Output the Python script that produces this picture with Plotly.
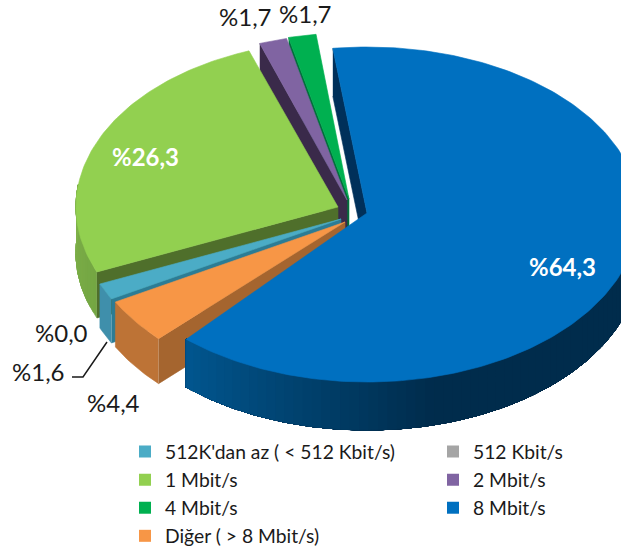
import numpy as np
import plotly.graph_objects as go

# ---- data ----
categories = ["512K'dan az ( < 512 Kbit/s)", "512 Kbit/s", "1 Mbit/s", "2 Mbit/s",
              "4 Mbit/s", "8 Mbit/s", "Diğer ( > 8 Mbit/s)"]
values = [1.6, 0.0, 26.3, 1.7, 1.7, 64.3, 4.4]
value_labels = ["%1,6", "%0,0", "%26,3", "%1,7", "%1,7", "%64,3", "%4,4"]

# ---- style ----
top_colors = ["#4bacc6", "#a5a5a5", "#92d050", "#8064a2", "#00b050", "#0070c0", "#f79646"]
cut_colors = ["#2c7c95", "#777777", "#4f6f2b", "#3a2a4a", "#00703a", "#00305a", "#a5652f"]
side_from = ["#3f8fab", "#777777", "#74a643", "#5a4678", "#008a40", "#002c4c", "#bd7336"]
side_to = ["#3f8fab", "#777777", "#7fb24a", "#5a4678", "#008a40", "#01568f", "#bd7336"]
side_hold = [0, 0, 0, 0, 0, 0.6, 0]
apex_x = [341, 341, 338, 347, 349, 367, 345]
apex_y = [219, 219, 207, 200, 199, 213, 222]
radius_x = [262, 262, 262, 262, 262, 272, 262]
radius_y = [166] * 7
radius_y_front = [166, 166, 166, 166, 166, 169, 166]
depth_px = [44, 44, 46, 48, 48, 48, 45]
# small corrections of the drawn edges for the source's perspective
start_shift = [0, 0, 0, -1.1, -1.1, -1.1, 0]
end_shift = [0, 0, -1.5, -1.1, -1.1, -3.7, 0]
first_start_deg = 241.2
draw_order = [4, 3, 2, 0, 1, 6, 5]
label_x = [38, 61, 145, 245, 305, 562, 113]
label_y = [371, 332, 156, 16, 13, 266, 402]
label_color = ["#1a1a1a", "#1a1a1a", "white", "#1a1a1a", "#1a1a1a", "white", "#1a1a1a"]
FONT = "Lato"


def hex_mix(a, b, f):
    ca = [int(a[i:i + 2], 16) for i in (1, 3, 5)]
    cb = [int(b[i:i + 2], 16) for i in (1, 3, 5)]
    return "rgb(%d,%d,%d)" % tuple(round(x + (y - x) * f) for x, y in zip(ca, cb))


def rim(i, deg):
    t = np.radians(deg)
    c = np.cos(t)
    ry = np.where(c < 0, radius_y_front[i], radius_y[i])
    return apex_x[i] + radius_x[i] * np.sin(t), apex_y[i] - ry * c


fig = go.Figure()


def poly(xs, ys, color):
    fig.add_trace(go.Scatter(x=list(xs), y=list(ys), mode="lines", fill="toself",
                             fillcolor=color, line=dict(color=color, width=0.6),
                             hoverinfo="skip", showlegend=False))


cum = np.concatenate([[0], np.cumsum(values)])
starts = first_start_deg + 3.6 * cum[:-1]
ends = first_start_deg + 3.6 * cum[1:]

for i in draw_order:
    if values[i] <= 0:
        continue
    a0, a1 = starts[i] + start_shift[i], ends[i] + end_shift[i]
    d = depth_px[i]
    # outer wall: nested bands, each later one painted over the rest of the arc
    arc_all = np.linspace(a0, a1, max(6, int(a1 - a0) + 2))
    arc_all = arc_all[np.cos(np.radians(arc_all)) <= 0.15]
    if len(arc_all) > 1:
        steps = len(arc_all) - 1 if side_from[i] != side_to[i] else 1
        for j in range(0, steps, 2 if steps > 1 else 1):
            arc = arc_all[j:]
            xs, ys = rim(i, arc)
            f = j / max(1, steps - 1)
            f = max(0.0, (f - side_hold[i]) / (1 - side_hold[i]))
            poly(np.r_[xs, xs[::-1]], np.r_[ys, (ys + d)[::-1]],
                 hex_mix(side_from[i], side_to[i], f))
    # cut face on the leading edge
    ox, oy = rim(i, a0)
    poly([ox, apex_x[i], apex_x[i], ox],
         [oy, apex_y[i], apex_y[i] + d, oy + d], cut_colors[i])
    # top face
    arc = np.linspace(a0, a1, max(4, int(a1 - a0) + 2))
    xs, ys = rim(i, arc)
    poly(np.r_[apex_x[i], xs, apex_x[i]], np.r_[apex_y[i], ys, apex_y[i]], top_colors[i])

# legend entries
for name, color in zip(categories, top_colors):
    fig.add_trace(go.Scatter(x=[None], y=[None], mode="markers", name=name,
                             marker=dict(symbol="square", size=12, color=color)))

# leader line of the %1,6 label
fig.add_trace(go.Scatter(x=[107, 83, 72], y=[342, 377, 377], mode="lines",
                         line=dict(color="#1a1a1a", width=1.5),
                         hoverinfo="skip", showlegend=False))

for txt, x, y, c in zip(value_labels, label_x, label_y, label_color):
    fig.add_annotation(x=x, y=y, xref="x", yref="y", text=("<b>%s</b>" % txt) if c == "white" else txt,
                       showarrow=False, font=dict(family=FONT, size=24, color=c))

fig.update_layout(
    width=621, height=553, margin=dict(l=0, r=0, t=0, b=0, autoexpand=False),
    paper_bgcolor="white", plot_bgcolor="white", hovermode=False,
    xaxis=dict(range=[0, 621], visible=False, fixedrange=True),
    yaxis=dict(range=[553, 0], visible=False, fixedrange=True),
    legend=dict(orientation="h", x=125 / 621, xanchor="left", y=1 - 432.5 / 553, yanchor="top",
                entrywidth=263, entrywidthmode="pixels", itemsizing="constant",
                traceorder="normal", bgcolor="rgba(0,0,0,0)",
                font=dict(family=FONT, size=19.3, color="#1a1a1a")),
)
fig.write_html("out.html", config={"displayModeBar": False},
               post_script="document.body.style.margin='0';document.documentElement.style.overflow='hidden';")
